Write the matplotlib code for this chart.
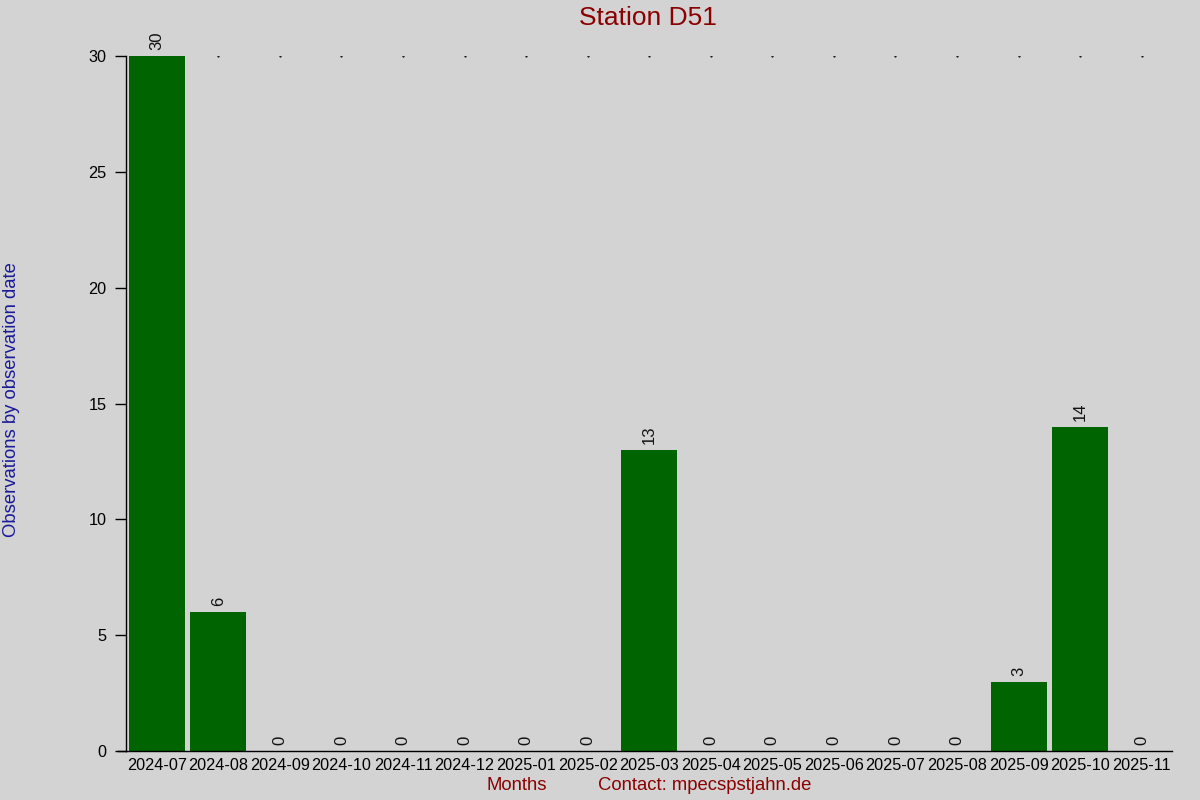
import matplotlib
matplotlib.use('Agg')
import matplotlib.pyplot as plt
import numpy as np

plt.rcParams['font.family'] = ['Liberation Sans', 'DejaVu Sans']

# data
months = ['2024-07', '2024-08', '2024-09', '2024-10', '2024-11', '2024-12',
          '2025-01', '2025-02', '2025-03', '2025-04', '2025-05', '2025-06',
          '2025-07', '2025-08', '2025-09', '2025-10', '2025-11']
counts = [30, 6, 0, 0, 0, 0, 0, 0, 13, 0, 0, 0, 0, 0, 3, 14, 0]
y_ticks = [0, 5, 10, 15, 20, 25, 30]

bg = '#d3d3d3'
fig = plt.figure(figsize=(12, 8), dpi=100, facecolor=bg)
ax = fig.add_axes([0.105, 0.06125, 0.872, 0.86875])
ax.set_facecolor(bg)

x = np.arange(len(months))
bars = ax.bar(x, counts, width=0.91, color='#006400')

# value labels
for xi, v in zip(x, counts):
    ax.annotate(str(v), (xi, v), xytext=(0, 4), textcoords='offset points',
                rotation=90, ha='center', va='bottom', fontsize=12, color='#111111')

# little dots along the top
ax.scatter(x, [max(counts)] * len(x), s=0.3, color='black', zorder=0)

ax.set_xlim(-0.5, len(months) - 0.5)
ax.set_ylim(0, max(counts))
ax.set_yticks(y_ticks)
ax.set_xticks(x)
ax.set_xticklabels(months, fontsize=11.7)
ax.tick_params(axis='x', length=0, pad=5)
ax.tick_params(axis='y', length=8, width=1, labelsize=11.7, pad=6)

for s in ['top', 'right']:
    ax.spines[s].set_visible(False)
ax.spines['left'].set_linewidth(1)
ax.spines['bottom'].set_linewidth(1)
ax.plot([-0.008, 0], [0, 0], transform=ax.transAxes, color='black', lw=1, clip_on=False)

fig.text(0.54, 0.977, 'Station D51', ha='center', va='center', fontsize=19, color='#8b0000')
fig.text(0.0095, 0.5, 'Observations by observation date', rotation=90, ha='center', va='center',
         fontsize=13.3, color='#1a1a99')
fig.text(0.4058, 0.018, 'Months', ha='left', va='center', fontsize=13.3, color='#8b0000')
fig.text(0.4983, 0.018, 'Contact: mpecs\u1e57stjahn.de', ha='left', va='center', fontsize=13.3,
         color='#8b0000')

fig.savefig('out.png', dpi=100, facecolor=bg)
